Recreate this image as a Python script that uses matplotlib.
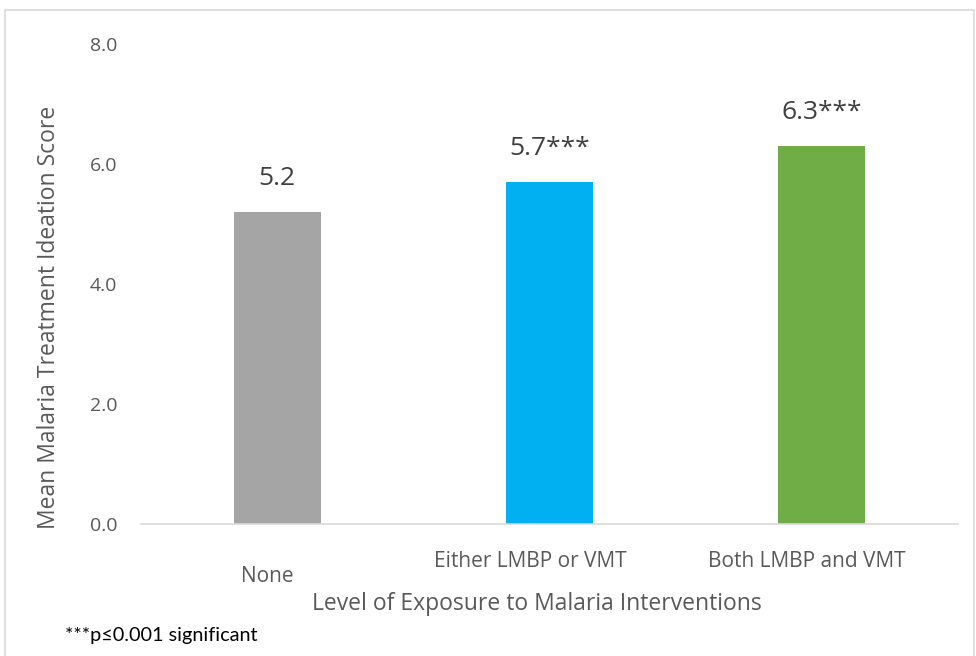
import matplotlib
matplotlib.use("Agg")
import numpy as np
from matplotlib import pyplot as plt
from matplotlib.patches import Rectangle

# Mean ideation score by exposure level
categories = ["None", "Either LMBP or VMT", "Both LMBP and VMT"]
scores = [5.2, 5.7, 6.3]
value_labels = ["5.2", "5.7***", "6.3***"]
bar_colors = ["#A5A5A5", "#00B0F0", "#70AD47"]
y_ticks = [0, 2, 4, 6, 8]

text_color = "#595959"
line_color = "#D9D9D9"

plt.rcParams["font.family"] = ["Open Sans", "DejaVu Sans"]

fig = plt.figure(figsize=(9.76, 6.56), dpi=100)
ax = fig.add_axes([141 / 976, 1 - 524 / 656, 817 / 976, 480 / 656])

x = np.arange(len(categories))
bars = ax.bar(x, scores, width=0.32, color=bar_colors, zorder=2)

# Value labels above each bar
for bar, lab in zip(bars, value_labels):
    ax.annotate(lab, (bar.get_x() + bar.get_width() / 2, bar.get_height()),
                xytext=(0, 15), textcoords="offset points",
                ha="center", va="bottom", fontsize=19, color="#404040")

ax.set_xlim(-0.5, len(categories) - 0.5)
ax.set_ylim(0, 8)
ax.set_yticks(y_ticks)
ax.set_yticklabels([f"{v:.1f}" for v in y_ticks], fontsize=14, color=text_color)
ax.tick_params(axis="y", length=0, pad=17)
ax.set_xticks(x)
ax.set_xticklabels([])
ax.tick_params(axis="x", length=0)

# Category labels, nudged the way the original layout places them
label_shift = [(-7, -38), (-14, -27), (-11, -27)]
for xi, cat, (dx, dy) in zip(x, categories, label_shift):
    ax.annotate(cat, (xi, 0), xycoords=("data", "axes fraction"),
                xytext=(dx, dy), textcoords="offset points",
                ha="center", va="center", fontsize=15, color=text_color)

for side in ["top", "right", "left"]:
    ax.spines[side].set_visible(False)
ax.spines["bottom"].set_color(line_color)
ax.spines["bottom"].set_linewidth(1.2)

ax.set_ylabel("Mean Malaria Treatment Ideation Score", fontsize=16.5,
              color=text_color)
ax.yaxis.set_label_coords(-0.098, 0.431)
fig.text(537 / 976, 1 - 604 / 656, "Level of Exposure to Malaria Interventions",
         ha="center", va="center", fontsize=16.5, color=text_color)
fig.text(65 / 976, 1 - 636 / 656, "***p\u22640.001 significant",
         ha="left", va="center", fontsize=14.3, color="#000000",
         family=["Lato", "DejaVu Sans"])

# Chart area border
fig.patches.append(Rectangle((5 / 976, -0.01), 969 / 976, 1 - 10 / 656 + 0.01,
                             transform=fig.transFigure, fill=False,
                             edgecolor=line_color, linewidth=1.2))

fig.savefig("out.png", dpi=100, facecolor="white")
